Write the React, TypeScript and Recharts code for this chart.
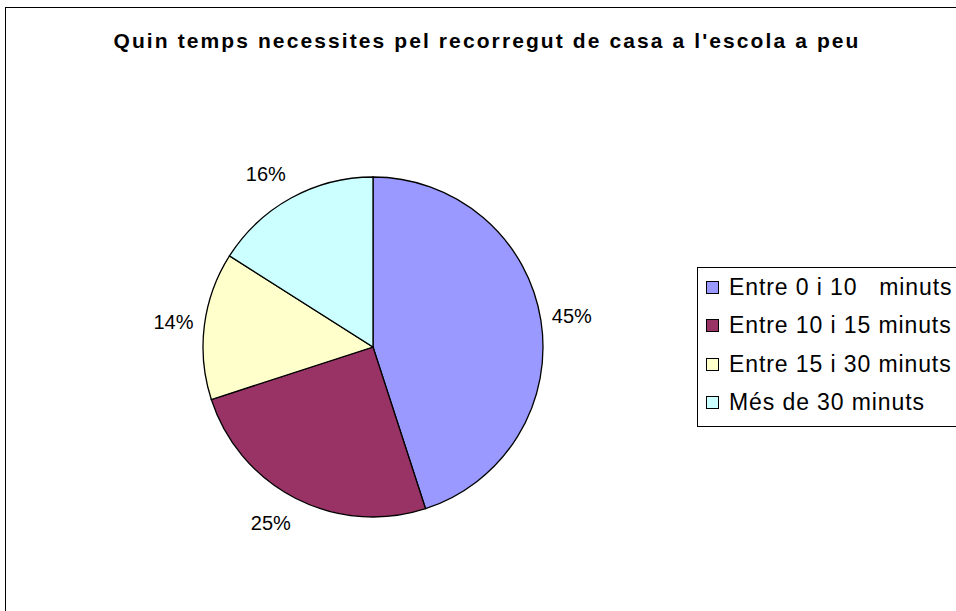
import { PieChart, Pie, Cell, Legend } from 'recharts'

const categories = ['Entre 0 i 10   minuts', 'Entre 10 i 15 minuts', 'Entre 15 i 30 minuts', 'Més de 30 minuts']
const values = [45, 25, 14, 16]
const colors = ['#9999FF', '#993366', '#FFFFCC', '#CCFFFF']
const title = "Quin temps necessites pel recorregut de casa a l'escola a peu"

const data = categories.map((name, i) => ({ name, value: values[i] }))

const RADIAN = Math.PI / 180
const font = "'Liberation Sans', Arial, sans-serif"

// labels sit outside the pie, anchored on the side facing the slice
// eslint-disable-next-line @typescript-eslint/no-explicit-any
function renderLabel(props: any) {
  const { cx, cy, midAngle, percent } = props
  const cos = Math.cos(-midAngle * RADIAN)
  const sin = Math.sin(-midAngle * RADIAN)
  const x = cx + 181 * cos
  const y = cy + 197 * sin
  return (
    <text
      x={x}
      y={y}
      textAnchor={cos >= 0 ? 'start' : 'end'}
      dominantBaseline="central"
      fontSize={20}
      fontFamily={font}
      fill="#000"
    >
      {`${Math.round(percent * 100)}%`}
    </text>
  )
}

// eslint-disable-next-line @typescript-eslint/no-explicit-any
function renderLegend(props: any) {
  const payload = props.payload || []
  return (
    <div
      style={{
        border: '1px solid #000',
        width: 280,
        height: 160,
        boxSizing: 'border-box',
        background: '#fff',
        fontFamily: font,
      }}
    >
      {/* eslint-disable-next-line @typescript-eslint/no-explicit-any */}
      {payload.map((entry: any, i: number) => (
        <div key={i} style={{ display: 'flex', alignItems: 'center', height: 38.5 }}>
          <span
            style={{
              display: 'inline-block',
              width: 11,
              height: 11,
              marginLeft: 8,
              marginRight: 10,
              border: '1px solid #000',
              background: entry.color,
            }}
          />
          <span style={{ fontSize: 23, letterSpacing: 0.9, whiteSpace: 'pre', color: '#000' }}>{entry.value}</span>
        </div>
      ))}
    </div>
  )
}

export default function App() {
  return (
    <div style={{ position: 'absolute', left: 0, top: 0, width: 956, height: 611, overflow: 'hidden', background: '#fff' }}>
      <div
        style={{
          position: 'absolute',
          left: 5,
          top: 7,
          width: 980,
          height: 640,
          border: '1.5px solid #000',
          boxSizing: 'border-box',
        }}
      />
      <div
        style={{
          position: 'absolute',
          left: 0,
          top: 29,
          width: 974,
          textAlign: 'center',
          fontFamily: font,
          fontWeight: 'bold',
          fontSize: 21,
          letterSpacing: 2.1,
          color: '#000',
        }}
      >
        {title}
      </div>
      <PieChart
        width={956}
        height={611}
        margin={{ top: 0, right: 0, bottom: 0, left: 0 }}
        style={{ position: 'absolute', left: 0, top: 0 }}
      >
        <Pie
          data={data}
          dataKey="value"
          nameKey="name"
          cx={373}
          cy={347}
          outerRadius={170}
          startAngle={90}
          endAngle={-270}
          stroke="#000"
          strokeWidth={1.3}
          label={renderLabel}
          labelLine={false}
          isAnimationActive={false}
        >
          {data.map((d, i) => (
            <Cell key={d.name} fill={colors[i]} />
          ))}
        </Pie>
        <Legend
          layout="vertical"
          content={renderLegend}
          wrapperStyle={{ position: 'absolute', left: 697, top: 267, width: 280 }}
        />
      </PieChart>
    </div>
  )
}
